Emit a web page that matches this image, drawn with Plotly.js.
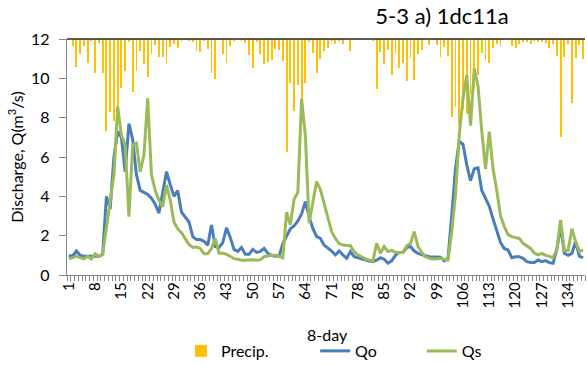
<!DOCTYPE html>
<html>
<head>
<meta charset="utf-8">
<script src="https://cdn.plot.ly/plotly-3.0.1.min.js"></script>
<style>html,body{margin:0;padding:0;background:#fff;}#chart{width:587px;height:366px;}</style>
</head>
<body>
<div id="chart"></div>
<script>
// 8-day period index
const periods = Array.from({length: 138}, (_, k) => k + 1);
const tickLabels = [1, 8, 15, 22, 29, 36, 43, 50, 57, 64, 71, 78, 85, 92, 99, 106, 113, 120, 127, 134];

// Precipitation (secondary axis, hanging from top)
const precip = [
  0, 7.4, 29.4, 16.2, 7.4, 25.8, 2.1, 35.7, 3.9, 36.4,
  97.5, 77.1, 86.9, 72.1, 52.3, 33.6, 2.9, 56.5, 33.6, 12.4,
  26.5, 40.6, 16.2, 6.4, 19.4, 18.8, 25.8, 8.0, 5.8, 9.0,
  2.9, 1.1, 1.6, 3.5, 12.7, 13.5, 1.6, 10.6, 36.4, 42.4,
  1.1, 15.4, 25.8, 7.4, 2.4, 0, 1.6, 3.9, 17.3, 31.1,
  3.7, 16.1, 26.8, 24.1, 22.3, 11.1, 12.0, 23.3, 119.5, 46.3,
  76.3, 49.1, 63.1, 46.3, 2.9, 15.2, 36.4, 21.5, 12.7, 9.0,
  1.6, 5.6, 2.1, 5.6, 0, 12.4, 0, 0.5, 0.5, 0,
  0, 2.1, 53, 14, 26.7, 11.7, 38.2, 16.2, 31.1, 25.8,
  44.8, 20.5, 43, 16.2, 12, 0, 6.7, 1.1, 6.7, 19.1,
  8.2, 17.7, 82.7, 71.8, 91.2, 74.2, 79.5, 58.3, 53, 38.2,
  15.2, 22.6, 25.8, 9, 5, 6.9, 1.1, 0.5, 7.4, 9.5,
  5.1, 3.2, 3.2, 5, 2.4, 3.2, 3.2, 4, 9, 5.5,
  17.7, 103.9, 19.1, 5.3, 67.5, 20.1, 6.4, 20.9
];

// Observed discharge
const qo = [
  1.0, 0.95, 1.22, 1.0, 0.95, 0.95, 0.92, 0.95, 0.95, 1.05,
  4.0, 3.35, 6.0, 7.3, 7.0, 5.25, 7.7, 6.9, 5.1, 4.3,
  4.2, 4.1, 3.9, 3.6, 3.15, 4.25, 5.25, 4.6, 4.0, 4.3,
  3.2, 2.95, 2.7, 1.95, 1.8, 1.8, 1.72, 1.52, 2.54, 1.45,
  1.4, 1.65, 2.4, 1.9, 1.3, 1.2, 1.4, 1.05, 1.05, 1.3,
  1.15, 1.2, 1.35, 1.1, 1.0, 0.95, 0.95, 1.6, 2.0, 2.35,
  2.5, 2.75, 3.1, 3.73, 2.97, 2.37, 1.95, 1.86, 1.52, 1.39,
  1.22, 1.02, 1.22, 1.02, 0.85, 1.19, 0.93, 0.88, 0.81, 0.76,
  0.71, 0.68, 0.75, 0.88, 0.8, 0.6, 0.72, 1.0, 1.15, 1.15,
  1.4, 1.45, 1.22, 1.1, 1.02, 0.98, 0.93, 0.93, 0.93, 0.9,
  0.72, 0.85, 3.05, 5.42, 6.8, 6.65, 5.6, 4.8, 5.4, 5.45,
  4.3, 3.9, 3.5, 2.85, 2.25, 1.65, 1.35, 1.27, 0.88, 0.93,
  0.93, 0.85, 0.68, 0.64, 0.64, 0.76, 0.68, 0.73, 0.63, 0.6,
  1.3, 2.5, 1.1, 1.0, 1.1, 1.7, 0.95, 0.88
];

// Simulated discharge
const qs = [
  0.82, 0.88, 0.95, 0.88, 0.82, 0.95, 0.82, 1.08, 0.93, 1.05,
  2.4, 3.6, 5.1, 8.56, 7.1, 6.6, 2.97, 6.6, 6.7, 5.25,
  6.1, 8.98, 5.1, 4.3, 3.8, 3.47, 4.58, 3.81, 2.7, 2.35,
  2.15, 1.85, 1.55, 1.4, 1.42, 1.35, 1.08, 1.08, 1.35, 1.85,
  1.1, 1.1, 1.05, 0.95, 0.83, 0.8, 0.75, 0.75, 0.78, 0.78,
  0.75, 0.78, 0.93, 0.98, 1.0, 1.0, 0.95, 0.88, 3.2, 2.55,
  3.85, 4.2, 8.95, 7.1, 2.63, 3.7, 4.75, 4.35, 3.6, 2.9,
  2.2, 1.86, 1.6, 1.52, 1.52, 1.49, 1.19, 1.02, 0.93, 0.81,
  0.76, 0.71, 1.61, 1.1, 1.45, 1.19, 1.25, 1.15, 1.15, 1.15,
  1.5, 1.6, 2.2, 1.45, 1.15, 0.93, 0.85, 0.81, 0.81, 0.85,
  0.8, 0.76, 2.2, 4.07, 7.12, 8.98, 10.17, 7.6, 10.5, 9.6,
  7.3, 5.4, 7.29, 5.4, 4.3, 3.0, 2.46, 2.05, 1.95, 1.9,
  1.86, 1.61, 1.49, 1.35, 1.12, 1.02, 1.1, 1.0, 0.95, 0.88,
  1.3, 2.8, 1.25, 1.25, 2.35, 1.7, 1.2, 1.27
];

const FONT = 'Lato, "Open Sans", sans-serif';

const traces = [
  {
    type: 'bar', name: 'Precip.', x: periods, y: precip,
    xaxis: 'x', yaxis: 'y', width: 0.5, legend: 'legend',
    marker: {color: '#FFC000', line: {width: 0}},
    hoverinfo: 'skip'
  },
  {
    type: 'scatter', mode: 'lines', name: 'Qo', x: periods, y: qo,
    xaxis: 'x', yaxis: 'y2', legend: 'legend2',
    line: {color: '#4A7EBB', width: 3}
  },
  {
    type: 'scatter', mode: 'lines', name: 'Qs', x: periods, y: qs,
    xaxis: 'x', yaxis: 'y2', legend: 'legend3',
    line: {color: '#9BBB59', width: 3}
  }
];

const legendBase = {
  orientation: 'h', xanchor: 'left', y: -0.322, yanchor: 'middle',
  font: {family: FONT, size: 16, color: '#000'},
  bgcolor: 'rgba(0,0,0,0)', borderwidth: 0
};

const layout = {
  width: 587, height: 366,
  margin: {l: 67, r: 2, t: 39, b: 91, pad: 0, autoexpand: false},
  paper_bgcolor: '#ffffff', plot_bgcolor: 'rgba(0,0,0,0)',
  font: {family: FONT, size: 15, color: '#000'},
  showlegend: true,
  title: {
    text: '5-3 a) 1dc11a',
    font: {family: FONT, size: 22, color: '#000'},
    x: 0.724, xanchor: 'center', xref: 'paper',
    y: 0.956, yanchor: 'middle', yref: 'container'
  },
  xaxis: {
    range: [0.5, 138.5], automargin: false,
    tickmode: 'array', tickvals: tickLabels, ticktext: tickLabels.map(String),
    tickangle: -90, ticks: '',
    minor: {ticks: 'outside', tick0: 0.5, dtick: 1, ticklen: 5, tickcolor: '#868686', tickwidth: 1},
    showline: true, linecolor: '#868686', linewidth: 1.3,
    showgrid: false, zeroline: false,
    tickfont: {family: FONT, size: 15, color: '#000'}
  },
  yaxis: {
    range: [250, 0], visible: false, showgrid: false, zeroline: false, fixedrange: true
  },
  yaxis2: {
    overlaying: 'y', side: 'left', anchor: 'x', automargin: false,
    range: [0, 12], dtick: 2, tick0: 0,
    ticks: 'outside', ticklen: 7, tickcolor: '#868686', tickwidth: 1,
    ticklabelstandoff: 6,
    showline: true, linecolor: '#868686', linewidth: 1.3,
    showgrid: false, zeroline: false,
    tickfont: {family: FONT, size: 16, color: '#000'},
    title: {text: 'Discharge, Q(m<sup>3</sup>/s)', font: {family: FONT, size: 16, color: '#000'}, standoff: 3}
  },
  annotations: [
    {text: '8-day', xref: 'paper', yref: 'paper', x: 0.502, y: -0.254,
     xanchor: 'center', yanchor: 'middle', showarrow: false,
     font: {family: FONT, size: 16, color: '#000'}}
  ],
  shapes: [
    {type: 'line', xref: 'paper', yref: 'paper', x0: 0, x1: 1, y0: 1, y1: 1,
     line: {color: '#262626', width: 1.5}}
  ],
  bargap: 0,
  legend: Object.assign({}, legendBase, {x: 0.22}),
  legend2: Object.assign({}, legendBase, {x: 0.479}),
  legend3: Object.assign({}, legendBase, {x: 0.685})
};

Plotly.newPlot('chart', traces, layout, {staticPlot: true, displayModeBar: false});
</script>
</body>
</html>
